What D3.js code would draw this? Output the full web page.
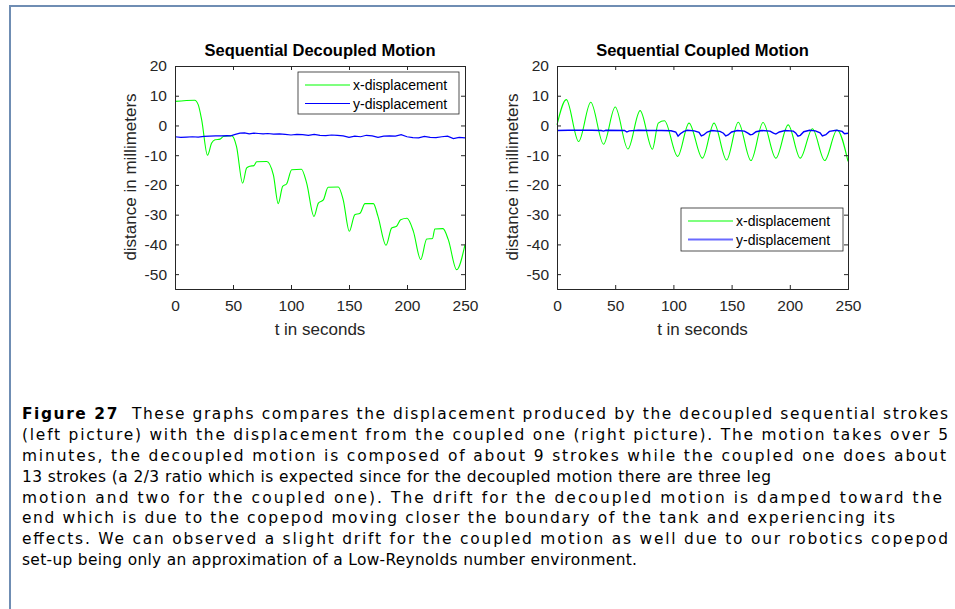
<!DOCTYPE html>
<html>
<head>
<meta charset="utf-8">
<script src="https://cdn.jsdelivr.net/npm/d3@7"></script>
<style>
  body { margin: 0; background: #fff; }
  svg { display: block; }
</style>
</head>
<body>
<div id="chart"></div>
<script>
// ---- data (t in seconds, displacement in mm) ----
const decoupledX = [
  [0, 8.1], [17, 8.5], [20, 7], [23, 1.9], [28, -10], [31.6, -5.9], [34.5, -4.8], [38.8, -4.6],
  [41.7, -3.7], [48.9, -3.4], [53, -7], [58.3, -19.4], [61.8, -14.3], [64.7, -13.7], [68, -13.5],
  [70.4, -12.2], [79, -12.1], [84.8, -16.6], [89, -26.3], [92.8, -20.5], [96.3, -19.6], [100.6, -14.9],
  [109, -14.7], [113.5, -19.4], [119.8, -30.6], [123.6, -26.1], [127.9, -25], [132, -20.8], [140.8, -20.7],
  [145, -25], [150.3, -35.6], [155, -30], [159.5, -29.5], [163.8, -26.3], [171, -26.3], [175, -30.6],
  [181.9, -40.3], [186.8, -34.5], [191, -33.9], [194.5, -31.7], [200, -31.2], [205.5, -35.6], [211.8, -45.1],
  [217, -38.2], [222, -38], [224, -34.8], [231, -34.7], [235.6, -38.4], [242.8, -48.5], [250, -40.1]
];
const decoupledY = [
  [0, -3.8], [5, -4.0], [10, -3.9], [15, -3.8], [20, -3.9], [25, -3.7], [30, -3.6], [35, -3.5],
  [40, -3.5], [45, -3.4], [48, -3.5], [52, -3.0], [56, -2.6], [60, -2.5], [64, -2.8], [68, -2.6],
  [72, -2.7], [76, -2.8], [80, -2.7], [85, -2.9], [90, -2.8], [95, -3.0], [100, -3.2], [105, -3.0],
  [110, -3.1], [115, -3.3], [120, -3.0], [125, -3.3], [130, -3.4], [135, -3.2], [140, -3.3], [145, -3.5],
  [150, -4.0], [155, -3.6], [160, -3.8], [165, -3.3], [170, -3.5], [175, -4.0], [180, -3.6], [185, -3.5],
  [190, -3.6], [195, -3.1], [200, -3.8], [205, -4.1], [210, -4.2], [215, -3.7], [220, -4.0], [225, -4.1],
  [230, -3.8], [235, -3.6], [240, -4.4], [245, -4.0], [250, -4.2]
];
const coupledX = [
  [0, 0.2], [8, 8.7], [18.6, -5.4], [29, 7.8], [40, -6.3], [50, 6.2], [60.9, -7.9], [71.4, 5],
  [82, -8], [87, 0.8], [92.3, 1.6], [103.7, -10.4], [113.4, 0.8], [124.9, -11], [134.9, 0.8],
  [145.7, -11.6], [155.7, 1.1], [166.6, -11.8], [177, 1], [188, -11], [198.6, 0.2], [209, -11],
  [219.4, -1.1], [230, -11.8], [240.6, -1.5], [250, -12.1]
];
const coupledY = [
  [0, -1.7], [10, -1.6], [20, -1.6], [30, -1.6], [38, -1.7], [40, -1.9], [42, -1.6], [58, -1.7],
  [60, -2.2], [62, -1.8], [70, -1.6], [80, -1.7], [90, -1.7], [98, -1.8], [102, -2.2], [104, -3.6],
  [106, -2.8], [109, -2], [112, -1.6], [118, -1.8], [122, -2.3], [124, -3.5], [126, -3.2], [129, -2.2],
  [133, -1.7], [140, -2], [143, -2.6], [145, -3.5], [147, -3.2], [150, -2.2], [155, -1.7], [161, -1.9],
  [164, -2.6], [166, -3.1], [168, -3.0], [171, -2.1], [176, -1.7], [183, -1.9], [186, -2.6], [188, -2.9],
  [191, -2.2], [196, -1.7], [203, -1.9], [205, -2.5], [207, -3.6], [209, -3.3], [212, -2.1], [217, -1.6],
  [222, -1.8], [226, -2.5], [228, -3.5], [231, -3.1], [234, -2], [240, -1.6], [245, -2], [247, -2.8], [250, -2.6]
];
const xTicks = [0, 50, 100, 150, 200, 250];
const yTicks = [20, 10, 0, -10, -20, -30, -40, -50];
const seriesNames = ["x-displacement", "y-displacement"];
const captionLines = [
  "These graphs compares the displacement produced by the decoupled sequential strokes",
  "(left picture) with the displacement from the coupled one (right picture). The motion takes over 5",
  "minutes, the decoupled motion is composed of about 9 strokes while the coupled one does about",
  "13 strokes (a 2/3 ratio which is expected since for the decoupled motion there are three leg",
  "motion and two for the coupled one). The drift for the decoupled motion is damped toward the",
  "end which is due to the copepod moving closer the boundary of the tank and experiencing its",
  "effects. We can observed a slight drift for the coupled motion as well due to our robotics copepod",
  "set-up being only an approximation of a Low-Reynolds number environment."
];
const captionEnds = [948, 948, 946, 771, 942, 895, 948, 637];

const W = 955, H = 609;
const FONT = "'Liberation Sans', Arial, sans-serif";
const svg = d3.select("#chart").append("svg")
  .attr("width", W).attr("height", H)
  .style("font-family", FONT);

// page frame
svg.append("path")
  .attr("d", `M10,${H} V6 H${W}`)
  .attr("fill", "none")
  .attr("stroke", "#6f8db3")
  .attr("stroke-width", 2);

function panel(opts) {
  const x = d3.scaleLinear().domain([0, 250]).range([opts.left, opts.right]);
  const y = d3.scaleLinear().domain([-55, 20]).range([289, 66]);
  const g = svg.append("g");
  const axisColor = "#262626";

  // lines
  const lineX = d3.line().x(d => x(d[0])).y(d => y(d[1])).curve(d3.curveMonotoneX);
  const lineY = d3.line().x(d => x(d[0])).y(d => y(d[1]));
  g.append("path").datum(opts.xs)
    .attr("d", lineX).attr("fill", "none").attr("stroke", "#00ff00").attr("stroke-width", 1.1);
  g.append("path").datum(opts.ys)
    .attr("d", lineY).attr("fill", "none").attr("stroke", "#0000ff").attr("stroke-width", opts.blueW);

  // axes (ticks inward, box)
  const fmt = d => String(d);
  const bottom = g.append("g").attr("transform", `translate(0,${y(-55)})`)
    .call(d3.axisBottom(x).tickValues(xTicks).tickSize(-4).tickPadding(11).tickFormat(fmt));
  const top = g.append("g").attr("transform", `translate(0,${y(20)})`)
    .call(d3.axisTop(x).tickValues(xTicks).tickSize(-4).tickFormat(""));
  const left = g.append("g").attr("transform", `translate(${x(0)},0)`)
    .call(d3.axisLeft(y).tickValues(yTicks).tickSize(-4).tickPadding(8).tickFormat(fmt));
  const right = g.append("g").attr("transform", `translate(${x(250)},0)`)
    .call(d3.axisRight(y).tickValues(yTicks).tickSize(-4).tickFormat(""));
  [bottom, top, left, right].forEach(a => {
    a.select(".domain").attr("stroke", axisColor);
    a.selectAll(".tick line").attr("stroke", axisColor);
    a.selectAll("text").attr("fill", axisColor).style("font-size", "15.5px")
      .style("font-family", FONT);
  });

  const cx = (opts.left + opts.right) / 2;
  g.append("text").attr("x", cx).attr("y", 56).attr("text-anchor", "middle")
    .style("font-size", "16.5px").style("font-weight", "bold").attr("fill", "#000")
    .text(opts.title);
  g.append("text").attr("x", cx).attr("y", 335).attr("text-anchor", "middle")
    .style("font-size", "17px").attr("fill", axisColor).text("t in seconds");
  g.append("text").attr("transform", `translate(${opts.left - 39},177) rotate(-90)`)
    .attr("text-anchor", "middle").style("font-size", "17px").attr("fill", axisColor)
    .text("distance in millimeters");

  // legend
  const L = opts.legend;
  g.append("rect").attr("x", L.x).attr("y", L.y).attr("width", L.w).attr("height", L.h)
    .attr("fill", "#fff").attr("stroke", axisColor).attr("stroke-width", 0.8);
  const colors = ["#00ff00", opts.legendBlue];
  const widths = [1.1, opts.legendBlueW];
  seriesNames.forEach((name, i) => {
    const yy = L.y + 13 + i * 18.5;
    g.append("line").attr("x1", L.x + 7).attr("x2", L.x + 52).attr("y1", yy).attr("y2", yy)
      .attr("stroke", colors[i]).attr("stroke-width", widths[i]);
    g.append("text").attr("x", L.x + 55).attr("y", yy + 5)
      .style("font-size", "14px").attr("fill", "#000").text(name);
  });
}

panel({
  left: 175, right: 465, title: "Sequential Decoupled Motion",
  xs: decoupledX, ys: decoupledY, blueW: 1.2,
  legend: {x: 298, y: 72, w: 161, h: 42}, legendBlue: "#0000ff", legendBlueW: 1.2
});
panel({
  left: 557, right: 848, title: "Sequential Coupled Motion",
  xs: coupledX, ys: coupledY, blueW: 1.4,
  legend: {x: 681, y: 208, w: 162, h: 43}, legendBlue: "#6a6aff", legendBlueW: 2.2
});

// caption: slightly narrowed sans, each line fitted to its measured end by spacing
const k = 0.93;
const cap = svg.append("g")
  .attr("transform", `scale(${k},1)`)
  .style("font-family", "'DejaVu Sans', sans-serif")
  .style("font-size", "16.6px").attr("fill", "#000");
captionLines.forEach((line, i) => {
  const t = cap.append("text").attr("x", 22 / k).attr("y", 419 + i * 20.9)
    .attr("textLength", (captionEnds[i] - 22) / k)
    .attr("lengthAdjust", "spacing");
  if (i === 0) {
    t.append("tspan").style("font-weight", "bold").text("Figure 27");
    t.append("tspan").text("\u00a0\u00a0" + line);
  } else {
    t.text(line);
  }
});
</script>
</body>
</html>
